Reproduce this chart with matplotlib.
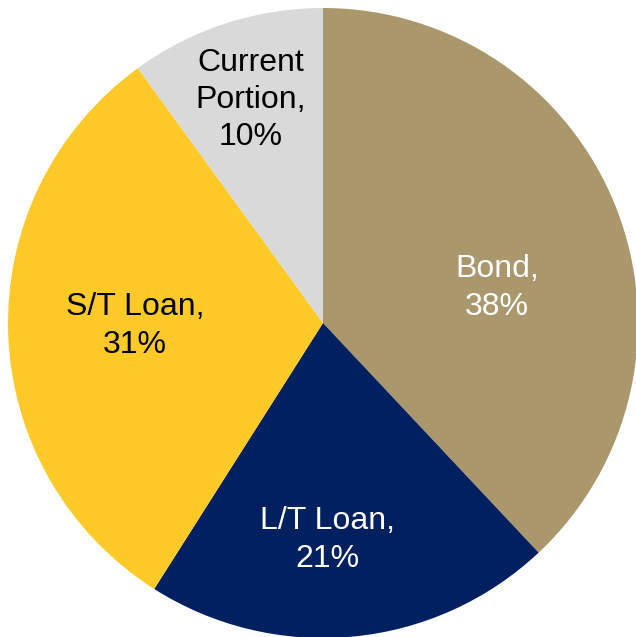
import matplotlib
matplotlib.use("Agg")
import matplotlib.pyplot as plt

# Debt composition
categories = ["Bond", "L/T Loan", "S/T Loan", "Current\nPortion"]
shares = [38, 21, 31, 10]
colors = ["#AA976C", "#00205F", "#FFC928", "#D9D9D9"]
text_colors = ["white", "white", "black", "black"]
# label anchor points (in pie-radius units)
label_xy = [(0.552, 0.111), (0.013, -0.689), (-0.597, -0.01), (-0.229, 0.708)]

W, H = 636, 637
R_PX = 315
CX, CY = 323, 323

fig = plt.figure(figsize=(W / 100, H / 100), dpi=100)
ax = fig.add_axes([0, 0, 1, 1])
ax.pie(shares, colors=colors, startangle=90, counterclock=False,
       radius=1.0, wedgeprops=dict(linewidth=0))
ax.set_xlim(-CX / R_PX, (W - CX) / R_PX)
ax.set_ylim(-(H - CY) / R_PX, CY / R_PX)
ax.set_aspect("auto")
ax.axis("off")

for name, val, (x, y), tc in zip(categories, shares, label_xy, text_colors):
    ax.text(x, y, f"{name},\n{val}%", ha="center", va="center",
            color=tc, fontsize=23, family="Liberation Sans", linespacing=1.32)

fig.savefig("out.png", dpi=100)
